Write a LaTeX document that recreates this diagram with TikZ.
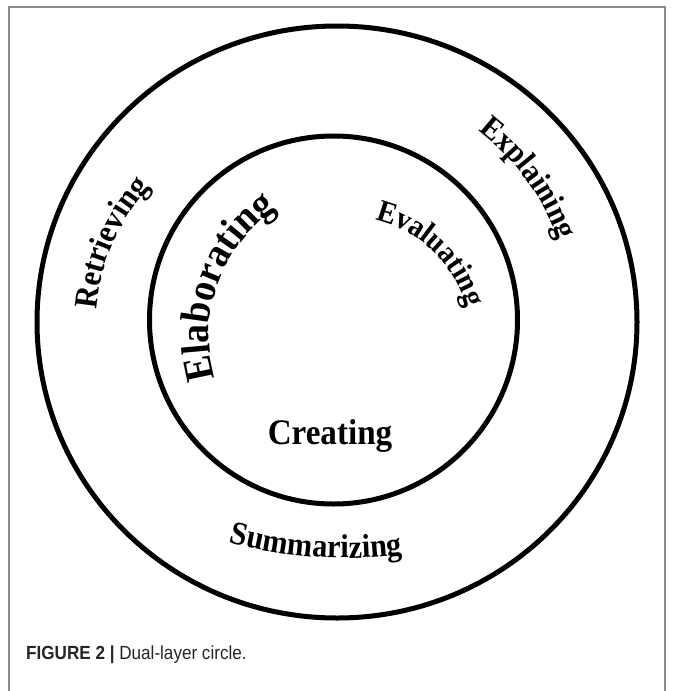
\documentclass[tikz,border=0pt]{standalone}
\usepackage{fontspec}
\setmainfont{Liberation Serif}
\newfontfamily\narrowserif[FakeStretch=0.92]{Liberation Serif}
\newfontfamily\capfont[FakeStretch=0.9]{Liberation Sans}
\usetikzlibrary{decorations.text}
\begin{document}
\begin{tikzpicture}[x=1pt,y=1pt,
  ring/.style={line width=5pt, black},
  frame/.style={line width=1.4pt, draw=black!45}]
\useasboundingbox (0,0) rectangle (673,-691);
% frame
\draw[frame] (9,-691) -- (9,-7) -- (665,-7) -- (665,-691);
% rings
\draw[ring] (337,-322) ellipse [x radius=300, y radius=296];
\draw[ring] (333.5,-320) circle [radius=184];
% outer ring labels
\path[decorate, decoration={text along path, text align=center,
  text={|\narrowserif\fontsize{33}{33}\selectfont\bfseries|Retrieving}}]
  (300,-325) ++(216.5:204) arc[start angle=216.5, end angle=96.5, radius=204];
\path[decorate, decoration={text along path, text align=center,
  text={|\narrowserif\fontsize{32}{32}\selectfont\bfseries|Explaining}}]
  (334,-320) ++(96:238) arc[start angle=96, end angle=-24, radius=238];
\path[decorate, decoration={text along path, text align=center,
  text={|\narrowserif\fontsize{33}{33}\selectfont\bfseries|Summarizing}}]
  (346,-115) ++(246:443) arc[start angle=246, end angle=286, radius=443];
% inner ring labels
\path[decorate, decoration={text along path, text align=center,
  text={|\narrowserif\fontsize{41}{41}\selectfont\bfseries|Elaborating}}]
  (360,-335) ++(240:151) arc[start angle=240, end angle=80, radius=151];
\path[decorate, decoration={text along path, text align=center,
  text={|\narrowserif\fontsize{31}{31}\selectfont\bfseries|Evaluating}}]
  (346,-341) ++(106:125) arc[start angle=106, end angle=-14, radius=125];
\node[anchor=base, inner sep=0pt, font=\narrowserif\fontsize{36}{36}\selectfont\bfseries] (creating) at (330,-444) {Creating};
% caption
\node[anchor=base west, inner sep=0pt, font=\capfont\fontsize{19}{19}\selectfont, text=black!85] (caption) at (26,-659) {\textbf{FIGURE 2 |} Dual-layer circle.};
\end{tikzpicture}
\end{document}
